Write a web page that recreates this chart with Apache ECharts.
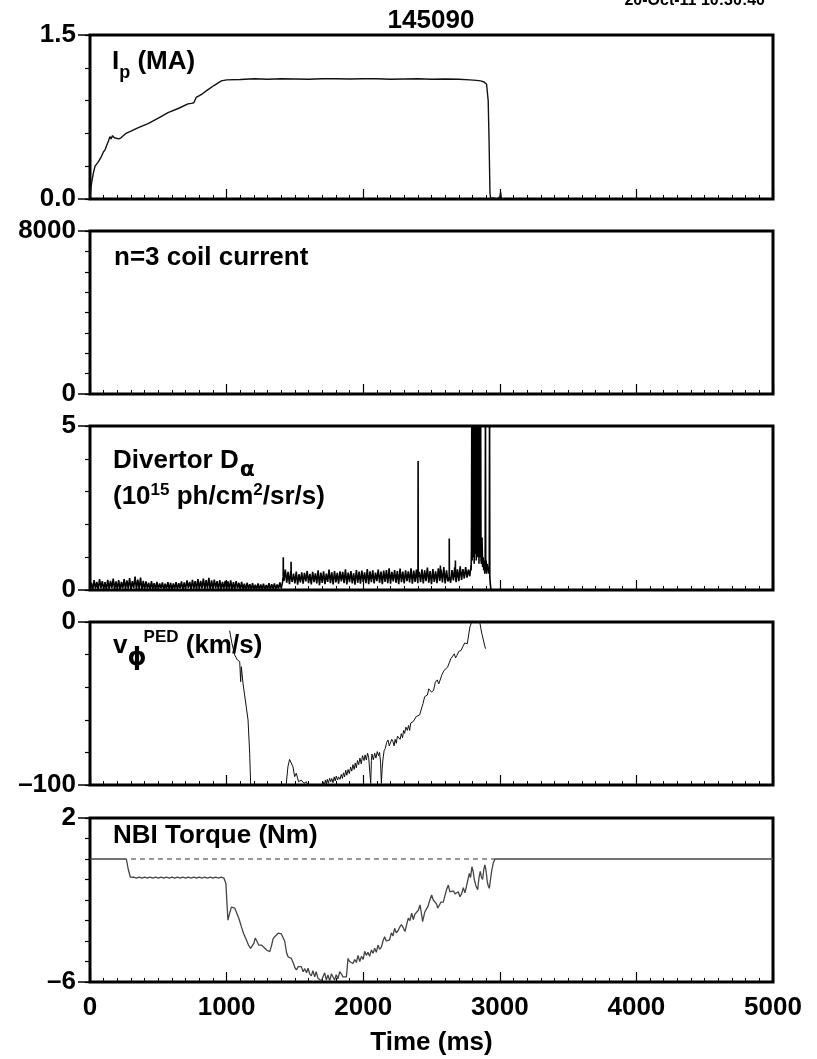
<!DOCTYPE html>
<html><head><meta charset="utf-8">
<script src="https://cdn.jsdelivr.net/npm/echarts@6/dist/echarts.min.js"></script>
<style>html,body{margin:0;padding:0;background:#fff}#c{width:817px;height:1059px}</style>
</head><body><div id="c"></div>
<script>
// ---------------- DATA ----------------
const shotNumber = '145090';
const dateStamp = '20-Oct-11 10:30:40';
const xTickLabels = ['0', '1000', '2000', '3000', '4000', '5000'];

// Panel 1: plasma current Ip (MA)
const ipT = [0,5,12,25,37,61,80,98,110,122,135,146,155,165,178,190,210,227,245,263,300,350,425,500,571,650,717,742,760,778,820,864,910,962,1000,1100,1205,1300,1400,1500,1600,1700,1800,1900,2000,2100,2200,2300,2400,2500,2600,2700,2780,2830,2860,2885,2903,2915,2922,2928,2935,2950,2980,3000,3006,3012,3030];
const ipV = [0,0.08,0.15,0.24,0.30,0.34,0.38,0.43,0.45,0.49,0.53,0.57,0.55,0.58,0.56,0.55,0.55,0.56,0.58,0.60,0.62,0.65,0.69,0.74,0.79,0.83,0.87,0.875,0.88,0.93,0.96,1.00,1.04,1.08,1.09,1.093,1.10,1.095,1.10,1.098,1.095,1.10,1.10,1.097,1.10,1.10,1.095,1.098,1.10,1.095,1.097,1.095,1.09,1.085,1.08,1.07,1.05,0.9,0.5,0.05,0.0,0.01,0.0,0.02,0.06,0.0,0.0];

// Panel 2: n=3 coil current (no visible signal, sits on zero)
const coilT = [0, 5000];
const coilV = [0, 0];

// Panel 3: divertor D-alpha. Noisy signal: alternating low / high samples, 10 ms apart, 0..2790 ms
const daStart = 0, daStep = 20;
const daLow = [0.02,0.00,0.04,0.01,0.05,0.02,0.00,0.03,0.06,0.01,
  0.03,0.00,0.05,0.02,0.04,0.01,0.06,0.02,0.03,0.00,
  0.02,0.04,0.01,0.03,0.00,0.02,0.05,0.01,0.03,0.02,
  0.00,0.04,0.02,0.05,0.01,0.03,0.06,0.02,0.04,0.01,
  0.03,0.05,0.02,0.04,0.00,0.03,0.05,0.01,0.02,0.04,
  0.01,0.03,0.00,0.02,0.04,0.01,0.02,0.00,0.03,0.01,
  0.00,0.02,0.01,0.03,0.00,0.02,0.01,0.03,0.02,0.04,0.05,
  0.28,0.22,0.18,0.25,0.20,0.16,0.23,0.19,0.26,0.21,
  0.17,0.24,0.20,0.15,0.22,0.18,0.25,0.21,0.17,0.23,
  0.19,0.26,0.21,0.17,0.24,0.20,0.16,0.22,0.19,0.25,
  0.21,0.18,0.24,0.20,0.27,0.22,0.18,0.25,0.21,0.19,
  0.26,0.22,0.18,0.24,0.20,0.27,0.23,0.19,0.25,0.21,
  0.24,0.20,0.27,0.22,0.18,0.25,0.21,0.28,0.23,0.20,
  0.26,0.22,0.29,0.24,0.27,0.31,0.35,0.38,0.42];
const daHigh = [0.22,0.30,0.25,0.33,0.27,0.24,0.31,0.28,0.35,0.26,
  0.30,0.25,0.33,0.29,0.36,0.27,0.41,0.32,0.38,0.28,
  0.26,0.22,0.27,0.21,0.25,0.20,0.23,0.19,0.24,0.22,
  0.20,0.24,0.21,0.26,0.23,0.29,0.25,0.31,0.27,0.33,
  0.28,0.35,0.30,0.37,0.29,0.32,0.27,0.30,0.25,0.28,
  0.26,0.29,0.24,0.27,0.22,0.25,0.19,0.22,0.18,0.21,
  0.16,0.20,0.17,0.19,0.15,0.21,0.18,0.20,0.17,0.23,0.25,
  0.62,0.55,0.58,0.50,0.56,0.48,0.54,0.52,0.58,0.49,
  0.55,0.51,0.60,0.53,0.57,0.50,0.62,0.54,0.58,0.52,
  0.57,0.55,0.63,0.53,0.58,0.51,0.61,0.56,0.59,0.54,
  0.64,0.57,0.60,0.53,0.62,0.56,0.59,0.61,0.66,0.55,
  0.61,0.58,0.65,0.56,0.60,0.57,0.66,0.59,0.62,0.55,
  0.63,0.60,0.68,0.58,0.64,0.57,0.66,0.62,0.70,0.60,
  0.65,0.61,0.69,0.63,0.72,0.64,0.70,0.62,0.75];
// isolated spikes
const daSpikeT = [1414,1415,1416,1471,1472,1473,2401,2402,2403,2564,2565,2566,2629,2630,2631,2674,2675,2676];
const daSpikeV = [0.4,1.0,0.4,0.4,0.86,0.4,0.4,3.93,0.4,0.4,0.75,0.4,0.4,1.57,0.4,0.4,0.9,0.4];
// ELM burst before the disruption (2.5 ms samples from 2790 ms) and its tail
const daBurstStart = 2790, daBurstStep = 2.5;
const daBurst = [0.6,1.2,5.5,0.9,6.5,1.0,7.0,1.4,6.0,0.8,7.5,1.1,6.2,1.6,5.8,0.9,6.8,1.2,7.0,1.0,6.5,1.5,6.0,0.8,5.6,1.3,6.4,1.0,5.2,0.9];
const daTailT = [2866,2870,2874,2878,2882,2886,2890,2893,2895,2897,2900,2904,2908,2912,2916,2920,2923,2925,2927,2930,2934,2940];
const daTailV = [0.8,1.6,0.7,1.0,0.6,0.9,0.5,0.8,6.0,0.7,0.9,0.5,0.8,0.6,0.7,0.5,0.6,6.0,0.4,0.2,0.05,0];

// Panel 4: pedestal toroidal rotation (km/s), [time, value]
const vPairs = [[1022,-5.3],[1039,-13],[1059,-20.2],[1079,-23.3],[1096,-24.3],[1103,-36.6],[1108,-27.4],[1120,-37.6],[1137,-47.9],[1157,-60.1],[1169,-80.6],[1176,-99.4],[1205,-130],
  [1425,-120],[1437,-99],[1449,-88.8],[1461,-84.3],[1474,-84.7],[1486,-88.8],[1498,-94.9],[1510,-92.8],[1527,-98],[1547,-97],[1567,-99],[1584,-98],[1601,-101],[1645,-110],[1693,-101],
  [1706,-98],[1715,-100.5],[1723,-97],[1730,-99.5],[1737,-96.5],[1745,-99],[1754,-95.9],[1762,-98],[1770,-96],[1779,-98.6],[1788,-95],[1795,-97.5],[1803,-94.5],[1812,-97],[1820,-95],[1830,-96.5],
  [1840,-93.5],[1848,-96],[1856,-92.5],[1864,-95],[1872,-91],[1880,-94],[1889,-90.5],[1898,-93],[1908,-89],[1916,-91.5],[1925,-87.5],[1934,-90.5],[1942,-86.5],[1950,-89.5],[1958,-85],[1967,-87.5],
  [1976,-83.5],[1986,-87],[1995,-82],[2006,-85],[2014,-81.5],[2023,-84.7],[2032,-80.5],[2040,-83],[2048,-84],[2055,-99],[2060,-85],[2064,-81],[2074,-84.5],[2084,-80.5],[2093,-83.5],[2103,-79.5],
  [2112,-82],[2120,-80],[2127,-86],[2133,-99],[2139,-90],[2145,-84],[2153,-79],[2162,-77.5],[2171,-74],[2182,-72.4],[2191,-76],[2201,-75.5],[2209,-72],[2218,-73.4],[2226,-76],[2234,-72],
  [2242,-74.4],[2251,-70],[2260,-69.3],[2270,-72],[2279,-68.5],[2288,-71],[2296,-66.5],[2303,-68.3],[2313,-64.5],[2323,-66.5],[2332,-63.5],[2340,-66.5],[2348,-62],[2357,-63.2],[2367,-61],[2377,-60.1],
  [2388,-58],[2401,-59.1],[2413,-57],[2426,-56],[2438,-50],[2450,-45.8],[2460,-47],[2470,-44.8],[2480,-41],[2489,-40],[2500,-43],[2515,-42],[2528,-37],[2542,-35.5],[2553,-38],[2565,-37],
  [2578,-32],[2591,-29.8],[2604,-30],[2618,-27.7],[2630,-25],[2641,-22.6],[2653,-21.5],[2667,-19.5],[2676,-22],[2686,-20.5],[2700,-18],[2716,-17.5],[2730,-15],[2743,-12.9],[2752,-14],[2762,-13.3],
  [2772,-8],[2781,-3],[2800,1],[2830,0.5],[2853,0],[2868,-7],[2895,-16.4]];

// Panel 5: NBI torque (Nm)
const tqHeadT = [0, 266, 280, 295];
const tqHeadV = [0, 0, -0.5, -0.88];
const tqStepStart = 300, tqStep = 20;
const tqStepV = [-0.93,-0.89,-0.93,-0.89,-0.93,-0.89,-0.93,-0.89,-0.93,-0.89,-0.93,-0.89,-0.93,-0.89,-0.93,-0.89,-0.93,-0.89,-0.93,-0.89,-0.93,-0.89,-0.93,-0.89,-0.93,-0.89,-0.93,-0.89,-0.93,-0.89,-0.93,-0.89,-0.93,-0.89,-0.93];
const tqPairs = [[995,-1.2],[1003,-2.2],[1010,-2.98],[1020,-2.7],[1035,-2.35],[1047,-2.29],[1060,-2.4],[1071,-2.49],[1090,-2.9],[1108,-3.30],[1125,-3.65],[1145,-3.95],[1160,-4.2],[1176,-4.36],[1190,-4.3],[1200,-4.1],[1210,-3.85],[1218,-3.79],[1228,-4.1],[1235,-4.2],[1245,-4.15],[1255,-4.2],[1267,-4.28],[1280,-4.35],[1295,-4.45],[1305,-4.5],[1316,-4.52],[1330,-4.2],[1340,-3.9],[1352,-3.79],[1365,-3.7],[1378,-3.62],[1389,-3.59],[1400,-3.65],[1413,-3.7],[1425,-4.0],[1440,-4.6],[1450,-4.77],[1462,-4.7],[1474,-4.85],[1490,-5.1],[1500,-5.3],[1511,-5.41],[1525,-5.25],[1535,-5.3],[1547,-5.25],[1560,-5.5],[1572,-5.35],[1585,-5.55],[1596,-5.33],[1608,-5.6],[1620,-5.7],[1632,-5.45],[1645,-5.75],[1656,-5.5],[1668,-5.8],[1681,-5.74],[1693,-5.95],[1706,-5.9],[1718,-5.55],[1730,-5.9],[1742,-5.65],[1755,-5.95],[1767,-5.6],[1779,-5.55],[1790,-5.9],[1803,-5.65],[1815,-5.85],[1828,-5.5],[1840,-5.6],[1852,-5.75],[1865,-5.7],[1877,-5.75],[1889,-4.85],[1900,-5.0],[1913,-4.95],[1925,-5.1],[1938,-4.9],[1950,-5.05],[1962,-4.7],[1975,-5.0],[1987,-4.75],[2000,-4.9],[2011,-4.5],[2023,-4.7],[2035,-4.55],[2047,-4.75],[2060,-4.44],[2072,-4.6],[2084,-4.35],[2096,-4.55],[2108,-4.2],[2120,-4.4],[2133,-4.3],[2145,-4.0],[2157,-3.79],[2169,-4.0],[2181,-3.95],[2193,-3.95],[2206,-3.6],[2218,-3.75],[2230,-3.38],[2242,-3.6],[2255,-3.5],[2269,-3.30],[2280,-3.2],[2293,-3.35],[2306,-3.54],[2318,-3.2],[2330,-2.89],[2342,-3.0],[2355,-2.64],[2367,-2.95],[2378,-2.7],[2391,-2.75],[2403,-2.5],[2416,-2.24],[2425,-2.6],[2435,-3.06],[2450,-2.6],[2464,-2.55],[2475,-2.3],[2488,-2.0],[2501,-1.76],[2513,-2.0],[2525,-1.95],[2538,-2.2],[2545,-2.4],[2557,-2.4],[2570,-2.1],[2586,-2.1],[2598,-1.8],[2610,-1.5],[2623,-1.27],[2635,-1.6],[2647,-1.6],[2660,-1.55],[2672,-1.7],[2684,-1.75],[2696,-1.6],[2708,-1.84],[2720,-1.7],[2733,-1.4],[2745,-1.65],[2757,-1.3],[2767,-1.0],[2777,-0.70],[2786,-0.9],[2796,-0.38],[2805,-0.6],[2813,-1.0],[2825,-1.3],[2838,-1.5],[2848,-0.9],[2857,-0.6],[2866,-0.9],[2874,-1.0],[2883,-0.5],[2891,-0.29],[2900,-0.6],[2908,-1.1],[2915,-1.3],[2923,-1.43],[2932,-1.0],[2940,-0.6],[2952,-0.2],[2965,0],[5000,0]];
const tqRefT = [300, 2965];
const tqRefV = [0, 0];

// Axis limits and tick labels
const yMin = [0, 0, 0, -100, -6];
const yMax = [1.5, 8000, 5, 0, 2];
const yStep = [0.3, 1000, 1, 20, 1];
const yTickLabels = [['0.0','1.5'], ['0','8000'], ['0','5'], ['\u2013100','0'], ['\u20136','2']];

// ---------------- BUILD ----------------
const zip = (t, v) => t.map((x, i) => [x, v[i]]);
const uniform = (start, step, v) => v.map((y, i) => [start + i * step, y]);
const daNoise = [];
daLow.forEach((lo, i) => { daNoise.push([daStart + i * daStep, lo]); daNoise.push([daStart + i * daStep + daStep / 2, daHigh[i]]); });
const daData = [].concat(daNoise, zip(daSpikeT, daSpikeV), uniform(daBurstStart, daBurstStep, daBurst), zip(daTailT, daTailV))
  .sort((a, b) => a[0] - b[0]);
const tqData = [].concat(zip(tqHeadT, tqHeadV), uniform(tqStepStart, tqStep, tqStepV), tqPairs);

const F = "'Liberation Sans', Arial, Helvetica, sans-serif";
const FS = 26;
const panelTop = [35, 231, 426, 622, 818];
const panelH = [164, 163, 164, 163, 164];

const grids = [], xAxes = [], yAxes = [];
for (let i = 0; i < 5; i++) {
  grids.push({ left: 90, width: 683, top: panelTop[i], height: panelH[i], show: true,
    borderColor: '#000', borderWidth: 3, backgroundColor: 'transparent', containLabel: false });
  const last = i === 4;
  xAxes.push({ type: 'value', gridIndex: i, min: 0, max: 5000, interval: 1000, position: 'bottom',
    axisLine: { show: false, onZero: false }, splitLine: { show: false },
    axisTick: { show: true, inside: true, length: 10, lineStyle: { color: '#000', width: 1.2 } },
    minorTick: { show: true, splitNumber: 10, length: 4, lineStyle: { color: '#000', width: 1 } },
    axisLabel: { show: last, margin: 13, color: '#000', fontFamily: F, fontWeight: 'bold', fontSize: FS,
      formatter: (v) => xTickLabels[Math.round(v / 1000)] },
    name: last ? 'Time (ms)' : '', nameLocation: 'middle', nameGap: 48,
    nameTextStyle: { color: '#000', fontFamily: F, fontWeight: 'bold', fontSize: FS } });
  yAxes.push({ type: 'value', gridIndex: i, min: yMin[i], max: yMax[i], interval: yStep[i], position: 'left',
    axisLine: { show: false, onZero: false }, splitLine: { show: false },
    axisTick: { show: true, inside: false, length: 5, lineStyle: { color: '#000', width: 1.2 } },
    axisLabel: { show: false } });
  const lab = yTickLabels[i], lo = yMin[i], hi = yMax[i];
  yAxes.push({ type: 'value', gridIndex: i, min: lo, max: hi, position: 'left',
    axisLine: { show: false, onZero: false }, splitLine: { show: false },
    axisTick: { show: true, inside: false, length: 12, customValues: [lo, hi], lineStyle: { color: '#000', width: 1.5 } },
    axisLabel: { show: true, customValues: [lo, hi], margin: 14, color: '#000', fontFamily: F, fontWeight: 'bold', fontSize: FS,
      formatter: (v) => (Math.abs(v - lo) < 1e-9 ? lab[0] : lab[1]) } });
}

const line = (gi, data, color, width, extra) => Object.assign({
  type: 'line', xAxisIndex: gi, yAxisIndex: gi * 2, data: data, showSymbol: false, symbol: 'none',
  clip: true, animation: false, lineStyle: { color: color, width: width }, z: 3 }, extra || {});

const base = { fontFamily: F, fontWeight: 'bold', color: '#000' };
const G = "'DejaVu Sans', sans-serif";
const rich = {
  b: Object.assign({ fontSize: FS, lineHeight: 30 }, base),
  sub: Object.assign({}, base, { fontSize: 18, lineHeight: 12, verticalAlign: 'bottom', padding: [0, 0, -5, 0] }),
  alpha: Object.assign({}, base, { fontSize: 22, lineHeight: 12, verticalAlign: 'bottom', fontFamily: G, padding: [0, 0, -5, 1] }),
  phi: Object.assign({}, base, { fontSize: 24, lineHeight: 12, verticalAlign: 'bottom', fontFamily: G, padding: [0, 0, -10, 0] }),
  sup: Object.assign({}, base, { fontSize: 17, lineHeight: 16, verticalAlign: 'top' }),
  supP: Object.assign({}, base, { fontSize: 17, lineHeight: 16, verticalAlign: 'top', padding: [-2, 0, 0, -3] })
};
const label = (text, left, top) => ({ text: text, left: left, top: top, padding: 0,
  textStyle: Object.assign({ rich: rich }, base, { fontSize: FS }) });

const option = {
  backgroundColor: '#fff',
  animation: false,
  title: [
    { text: shotNumber, left: 431, top: 8, textAlign: 'center', padding: 0,
      textStyle: { fontFamily: F, fontWeight: 'bold', fontSize: FS, color: '#000' } },
    label('{b|I}{sub|p}{b| (MA)}', 112, 47),
    label('{b|n=3 coil current}', 114, 243),
    label('{b|Divertor D}{alpha|\u03b1}', 113, 446),
    label('{b|(10}{sup|15}{b| ph/cm}{sup|2}{b|/sr/s)}', 113, 482),
    label('{b|v}{phi|\u03d5}{supP|PED}{b| (km/s)}', 113, 631),
    label('{b|NBI Torque (Nm)}', 113, 821)
  ],
  graphic: [{ type: 'text', x: 765, y: 9, style: { text: dateStamp, align: 'right', verticalAlign: 'bottom',
    font: "bold 16px 'Liberation Sans', Arial, sans-serif", fill: '#000' } }],
  grid: grids, xAxis: xAxes, yAxis: yAxes,
  series: [
    line(0, zip(ipT, ipV), '#111', 1.4),
    line(1, zip(coilT, coilV), '#000', 1),
    line(2, daData, '#000', 1.6),
    line(3, vPairs, '#111', 1),
    line(4, zip(tqRefT, tqRefV), '#777', 1.5, { lineStyle: { color: '#777', width: 1.5, type: [5, 4] }, z: 2 }),
    line(4, tqData, '#444', 1.3)
  ]
};
const chart = echarts.init(document.getElementById('c'), null, { renderer: 'canvas', width: 817, height: 1059 });
chart.setOption(option);
</script></body></html>
